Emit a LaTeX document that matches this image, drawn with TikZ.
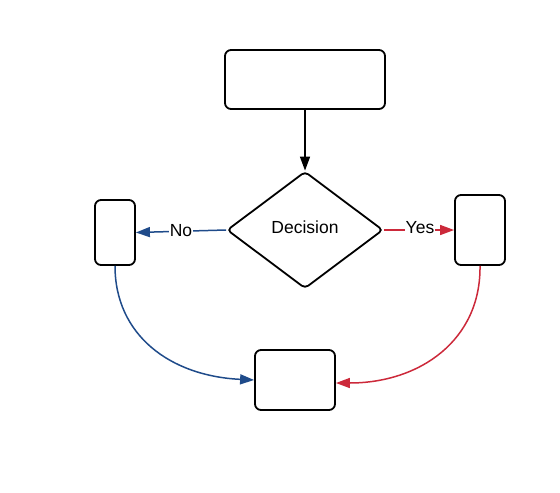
\documentclass[tikz,border=0pt]{standalone}
\usepackage{fontspec}
\setmainfont{Liberation Sans}
\usetikzlibrary{positioning,arrows.meta,shapes.geometric}

\definecolor{noblue}{RGB}{31,75,138}
\definecolor{yesred}{RGB}{204,41,58}

\begin{document}
\begin{tikzpicture}[
  x=1pt, y=-1pt,
  >={Triangle[length=14pt,width=10pt]},
  font=\fontsize{17.5}{20}\selectfont,
  box/.style={draw, line width=1.8pt, rounded corners=6pt, fill=white},
  decision/.style={draw, line width=1.8pt, diamond, rounded corners=4pt, inner sep=0pt, minimum width=156pt, minimum height=117pt, shape aspect=1.33},
  lab/.style={fill=white, inner sep=1pt},
  link/.style={line width=1.5pt}
]
\useasboundingbox (0,0) rectangle (560,493);

\node[box, minimum width=160pt, minimum height=59pt] (start) at (305,79.5) {};
\node[decision] (dec) at (305,230) {};
\node (dectext) at (305,227.5) {Decision};
\node[box, minimum width=40pt, minimum height=65pt] (nobox) at (115,232.5) {};
\node[box, minimum width=50pt, minimum height=70pt] (yesbox) at (480,230) {};
\node[box, minimum width=80pt, minimum height=60pt] (end) at (295,380) {};

\draw[->, link] (start) -- (dec);
\draw[->, link, noblue] (dec.west) -- node[lab, text=black, yshift=1pt] {No} (nobox.east);
\draw[->, link, yesred] (dec.east) -- node[lab, text=black, xshift=1pt, yshift=2pt] {Yes} (yesbox.west);

\draw[->, link, noblue] (nobox.south) .. controls (115,335) and (170,376) .. (end.west);
\draw[->, link, yesred] (yesbox.south) .. controls (481,340) and (420,383) .. ([yshift=-3pt]end.east);

\end{tikzpicture}
\end{document}
